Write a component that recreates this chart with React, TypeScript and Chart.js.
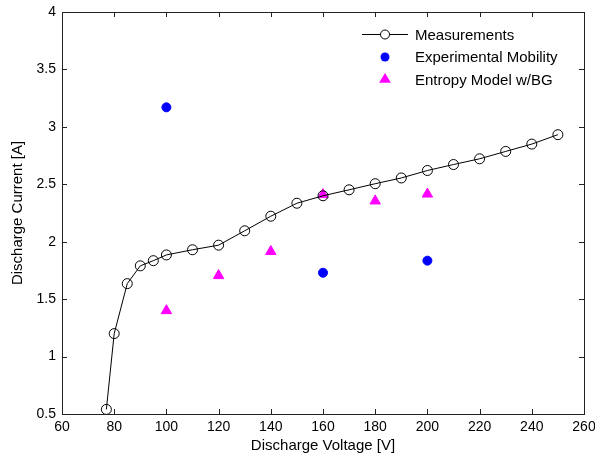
import React, { useEffect, useRef } from "react";
import { Chart, registerables } from "chart.js";

Chart.register(...registerables);

const measVoltage = [77, 80, 85, 90, 95, 100, 110, 120, 130, 140, 150, 160, 170, 180, 190, 200, 210, 220, 230, 240, 250];
const measCurrent = [0.54, 1.2, 1.635, 1.79, 1.835, 1.885, 1.93, 1.97, 2.095, 2.222, 2.335, 2.4, 2.452, 2.505, 2.555, 2.62, 2.672, 2.722, 2.786, 2.85, 2.932];
const mobilityVoltage = [100, 160, 200];
const mobilityCurrent = [3.17, 1.73, 1.835];
const entropyVoltage = [100, 120, 140, 160, 180, 200];
const entropyCurrent = [1.4, 1.705, 1.915, 2.41, 2.355, 2.415];

const xTicks = [60, 80, 100, 120, 140, 160, 180, 200, 220, 240, 260];
const yTicks = [0.5, 1, 1.5, 2, 2.5, 3, 3.5, 4];

const legendLabels = ["Measurements", "Experimental Mobility", "Entropy Model w/BG"];

const FONT = "'Liberation Sans', Arial, sans-serif";

const boxPlugin = {
  id: "matlabBox",
  afterDraw(chart: any) {
    const { ctx, chartArea: a, scales } = chart;
    const xs = scales.x;
    const ys = scales.y;
    ctx.save();
    ctx.strokeStyle = "#222";
    ctx.lineWidth = 1;
    ctx.beginPath();
    ctx.rect(Math.round(a.left) + 0.5, Math.round(a.top) + 0.5, Math.round(a.right - a.left), Math.round(a.bottom - a.top));
    ctx.stroke();
    const L = 5;
    ctx.beginPath();
    xTicks.forEach((v) => {
      const px = Math.round(xs.getPixelForValue(v)) + 0.5;
      ctx.moveTo(px, a.bottom);
      ctx.lineTo(px, a.bottom - L);
      ctx.moveTo(px, a.top);
      ctx.lineTo(px, a.top + L);
    });
    yTicks.forEach((v) => {
      const py = Math.round(ys.getPixelForValue(v)) + 0.5;
      ctx.moveTo(a.left, py);
      ctx.lineTo(a.left + L, py);
      ctx.moveTo(a.right, py);
      ctx.lineTo(a.right - L, py);
    });
    ctx.stroke();

    // legend
    const lx = 362;
    const rows = [34.5, 57, 79.5];
    ctx.font = `15px ${FONT}`;
    ctx.textBaseline = "middle";
    ctx.textAlign = "left";
    ctx.strokeStyle = "#000";
    ctx.beginPath();
    ctx.moveTo(lx, rows[0]);
    ctx.lineTo(lx + 46, rows[0]);
    ctx.stroke();
    ctx.fillStyle = "#fff";
    ctx.beginPath();
    ctx.arc(lx + 23, rows[0], 4.5, 0, Math.PI * 2);
    ctx.fill();
    ctx.stroke();
    ctx.fillStyle = "#0000ff";
    ctx.beginPath();
    ctx.arc(lx + 23, rows[1], 4.5, 0, Math.PI * 2);
    ctx.fill();
    ctx.fillStyle = "#ff00ff";
    const r = 6.5;
    const cx = lx + 23;
    const cy = rows[2];
    ctx.beginPath();
    ctx.moveTo(cx, cy - r);
    ctx.lineTo(cx + r * 0.91, cy + r * 0.5);
    ctx.lineTo(cx - r * 0.91, cy + r * 0.5);
    ctx.closePath();
    ctx.fill();
    ctx.fillStyle = "#000";
    legendLabels.forEach((t, i) => ctx.fillText(t, lx + 53, rows[i] + 1));
    ctx.restore();
  },
};

export default function App() {
  const ref = useRef<HTMLCanvasElement | null>(null);
  useEffect(() => {
    if (!ref.current) return;
    const chart = new Chart(ref.current, {
      type: "scatter",
      data: {
        datasets: [
          {
            label: legendLabels[0],
            data: measVoltage.map((x, i) => ({ x, y: measCurrent[i] })),
            showLine: true,
            borderColor: "#000",
            borderWidth: 1,
            backgroundColor: "rgba(255,255,255,0)",
            pointBorderColor: "#000",
            pointBackgroundColor: "rgba(255,255,255,0)",
            pointBorderWidth: 1,
            pointRadius: 5,
            pointStyle: "circle",
            tension: 0,
          },
          {
            label: legendLabels[1],
            data: mobilityVoltage.map((x, i) => ({ x, y: mobilityCurrent[i] })),
            showLine: false,
            pointBackgroundColor: "#0000ff",
            pointBorderColor: "#0000ff",
            pointRadius: 4.5,
            pointBorderWidth: 1,
          },
          {
            label: legendLabels[2],
            data: entropyVoltage.map((x, i) => ({ x, y: entropyCurrent[i] })),
            showLine: false,
            pointStyle: "triangle",
            pointBackgroundColor: "#ff00ff",
            pointBorderColor: "#ff00ff",
            pointRadius: 6,
            pointBorderWidth: 1,
          },
        ],
      },
      options: {
        animation: false,
        responsive: false,
        layout: { padding: { top: 12, right: 0, left: 0, bottom: 0 } },
        plugins: { legend: { display: false }, tooltip: { enabled: false } },
        scales: {
          x: {
            type: "linear",
            min: 60,
            max: 260,
            afterBuildTicks: (s: any) => {
              s.ticks = xTicks.map((v) => ({ value: v }));
            },
            ticks: { color: "#000", font: { family: FONT, size: 14 }, padding: 5, maxRotation: 0, callback: (v: any) => String(v) },
            grid: { display: false, drawTicks: false },
            border: { display: true, color: "#222" },
            title: { display: true, text: "Discharge Voltage [V]", color: "#000", font: { family: FONT, size: 15 }, padding: { top: 4, bottom: 5 } },
            afterFit: (s: any) => {
              s.height = 46;
              s.paddingRight = 11;
              s.paddingLeft = 0;
            },
          },
          y: {
            type: "linear",
            min: 0.5,
            max: 4,
            afterBuildTicks: (s: any) => {
              s.ticks = yTicks.map((v) => ({ value: v }));
            },
            ticks: { color: "#000", font: { family: FONT, size: 14 }, padding: 6, callback: (v: any) => String(v) },
            grid: { display: false, drawTicks: false },
            border: { display: true, color: "#222" },
            title: { display: true, text: "Discharge Current [A]", color: "#000", font: { family: FONT, size: 15 }, padding: { top: 9, bottom: 4 } },
            afterFit: (s: any) => {
              s.width = 62;
              s.paddingTop = 0;
              s.paddingBottom = 0;
            },
          },
        },
      },
      plugins: [boxPlugin],
    });
    return () => chart.destroy();
  }, []);
  return (
    <div style={{ position: "fixed", left: 0, top: 0, width: 595, height: 460, background: "#fff" }}>
      <canvas ref={ref} width={595} height={460} style={{ width: 595, height: 460 }} />
    </div>
  );
}
